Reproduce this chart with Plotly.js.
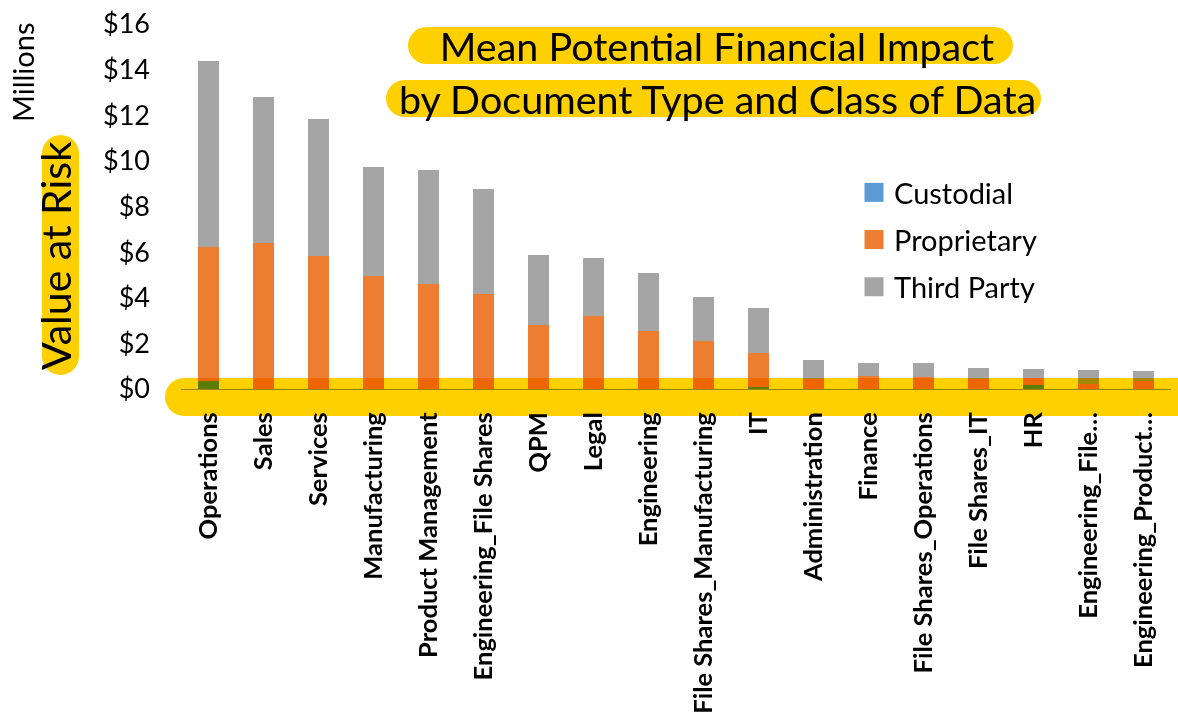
<!DOCTYPE html>
<html>
<head>
<meta charset="utf-8">
<script src="https://cdn.plot.ly/plotly-3.0.1.min.js"></script>
<style>
  html, body { margin: 0; padding: 0; background: #ffffff; }
  #chart { width: 1178px; height: 722px; }
  .layer-above .shapelayer path { mix-blend-mode: multiply; }
</style>
</head>
<body>
<div id="chart"></div>
<script>
// ---- data (values in $ millions) ----
const categories = ['Operations', 'Sales', 'Services', 'Manufacturing', 'Product Management',
  'Engineering_File Shares', 'QPM', 'Legal', 'Engineering', 'File Shares_Manufacturing', 'IT',
  'Administration', 'Finance', 'File Shares_Operations', 'File Shares_IT', 'HR',
  'Engineering_File…', 'Engineering_Product…'];
const custodial   = [0.33, 0, 0, 0, 0, 0, 0, 0, 0, 0, 0.10, 0, 0, 0, 0, 0.19, 0, 0];
const proprietary = [5.88, 6.39, 5.82, 4.97, 4.60, 4.16, 2.81, 3.20, 2.54, 2.10, 1.48, 0.44, 0.57, 0.53, 0.44, 0.31, 0.23, 0.35];
const thirdParty  = [8.17, 6.41, 6.02, 4.78, 5.01, 4.59, 3.05, 2.54, 2.55, 1.93, 1.97, 0.82, 0.58, 0.60, 0.48, 0.36, 0.60, 0.44];
const seriesNames = ['Custodial', 'Proprietary', 'Third Party'];
const yTickVals = [0, 2, 4, 6, 8, 10, 12, 14, 16];
const yTickText = ['$0', '$2', '$4', '$6', '$8', '$10', '$12', '$14', '$16'];
const titleLine1 = 'Mean Potential Financial Impact';
const titleLine2 = 'by Document Type and Class of Data';
const yTitle = 'Value at Risk';
const unitLabel = 'Millions';

// ---- layout geometry ----
const W = 1178, H = 722;
const ML = 181, MR = 7, MT = 24, MB = 333;
const PW = W - ML - MR, PH = H - MT - MB;
const FONT = 'Lato, "Open Sans", sans-serif';
const YEL = '#FFD000';

function px(x) { return (x - ML) / PW; }
function py(y) { return (H - MB - y) / PH; }
function f(v) { return v.toFixed(5); }
function pill(x0, y0, x1, y1, rl, rr) {
  const k = 0.5523;
  const P = (x, y) => f(px(x)) + ',' + f(py(y));
  return 'M' + P(x0 + rl, y0) +
    ' L' + P(x1 - rr, y0) +
    ' C' + P(x1 - rr + k * rr, y0) + ' ' + P(x1, y0 + rr - k * rr) + ' ' + P(x1, y0 + rr) +
    ' L' + P(x1, y1 - rr) +
    ' C' + P(x1, y1 - rr + k * rr) + ' ' + P(x1 - rr + k * rr, y1) + ' ' + P(x1 - rr, y1) +
    ' L' + P(x0 + rl, y1) +
    ' C' + P(x0 + rl - k * rl, y1) + ' ' + P(x0, y1 - rl + k * rl) + ' ' + P(x0, y1 - rl) +
    ' L' + P(x0, y0 + rl) +
    ' C' + P(x0, y0 + rl - k * rl) + ' ' + P(x0 + rl - k * rl, y0) + ' ' + P(x0 + rl, y0) + ' Z';
}

const colors = ['#5B9BD5', '#ED7D31', '#A5A5A5'];
const values = [custodial, proprietary, thirdParty];
const traces = seriesNames.map((name, i) => ({
  type: 'bar',
  name: name,
  x: categories,
  y: values[i],
  marker: { color: colors[i], line: { width: 0 } },
  legendgroup: 'g' + i,
  hoverinfo: 'x+y+name'
}));

const layout = {
  width: W, height: H,
  margin: { l: ML, r: MR, t: MT, b: MB, pad: 0 },
  paper_bgcolor: '#ffffff', plot_bgcolor: 'rgba(0,0,0,0)',
  barmode: 'stack',
  bargap: 0.61,
  font: { family: FONT, color: '#000000' },
  title: {
    text: titleLine1,
    font: { family: FONT, size: 39.5, color: '#000000' },
    xref: 'container', yref: 'container',
    x: 717 / W, y: 1 - 47 / H,
    xanchor: 'center', yanchor: 'middle'
  },
  xaxis: {
    type: 'category',
    tickangle: -90,
    tickfont: { family: FONT, size: 25.5, color: '#000000', weight: 'bold' },
    showgrid: false,
    showline: true, linecolor: '#A0A0A0', linewidth: 1,
    ticks: '', ticklabelstandoff: 12,
    zeroline: false,
    fixedrange: true
  },
  yaxis: {
    range: [0, 16],
    tickvals: yTickVals,
    ticktext: yTickText,
    tickfont: { family: FONT, size: 27, color: '#000000' },
    showgrid: false, zeroline: false, showline: false,
    ticks: '', ticklabelstandoff: 30,
    fixedrange: true
  },
  legend: {
    x: px(854), y: py(167), xanchor: 'left', yanchor: 'top',
    font: { family: FONT, size: 29, color: '#000000' },
    traceorder: 'grouped', tracegroupgap: 6.5,
    bgcolor: 'rgba(0,0,0,0)'
  },
  shapes: [
    { type: 'path', xref: 'paper', yref: 'paper', layer: 'below', line: { width: 0 }, fillcolor: YEL,
      path: pill(408, 27, 1013, 64, 18.5, 18.5) },
    { type: 'path', xref: 'paper', yref: 'paper', layer: 'below', line: { width: 0 }, fillcolor: YEL,
      path: pill(386, 80, 1041, 117, 18.5, 18.5) },
    { type: 'path', xref: 'paper', yref: 'paper', layer: 'below', line: { width: 0 }, fillcolor: YEL,
      path: pill(42, 135, 79, 375, 18.5, 18.5) },
    { type: 'path', xref: 'paper', yref: 'paper', layer: 'above', line: { width: 0 }, fillcolor: YEL,
      path: pill(165, 378, 1192, 416, 19, 8) }
  ],
  annotations: [
    { text: titleLine2, xref: 'paper', yref: 'paper', x: px(717), y: py(98),
      xanchor: 'center', yanchor: 'middle', showarrow: false,
      font: { family: FONT, size: 39.5, color: '#000000' } },
    { text: yTitle, xref: 'paper', yref: 'paper', x: px(55), y: py(256),
      xanchor: 'center', yanchor: 'middle', showarrow: false, textangle: -90,
      font: { family: FONT, size: 41, color: '#000000' } },
    { text: unitLabel, xref: 'paper', yref: 'paper', x: px(22), y: py(72),
      xanchor: 'center', yanchor: 'middle', showarrow: false, textangle: -90,
      font: { family: FONT, size: 29, color: '#000000' } }
  ]
};

Plotly.newPlot('chart', traces, layout, { displayModeBar: false, staticPlot: true }).then(function (gd) {
  // enlarge the legend swatches to match the reference
  gd.querySelectorAll('.legend .legendpoints path').forEach(function (p) {
    p.setAttribute('d', 'M9.5,9.5H-9.5V-9.5H9.5Z');
  });
});
</script>
</body>
</html>
